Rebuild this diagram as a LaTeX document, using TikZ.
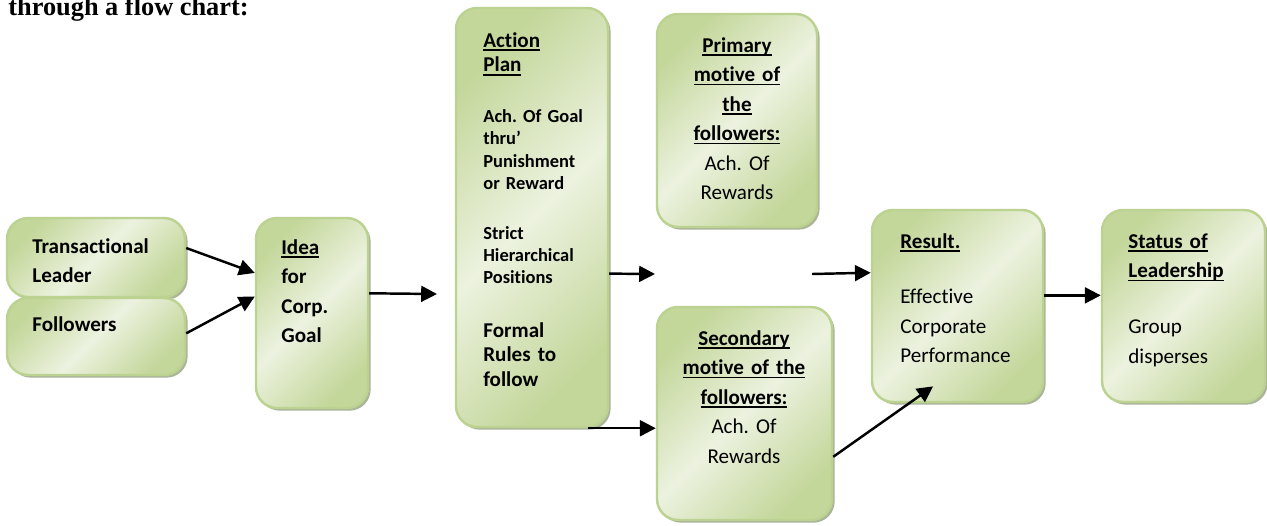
\documentclass[tikz,border=0pt]{standalone}
\usepackage{fontspec}
\setmainfont{Carlito}[Ligatures=NoCommon]
\newfontfamily\titlefont{Liberation Serif}
\usetikzlibrary{arrows.meta,shadows,fit}
\frenchspacing
\newsavebox\ulbox
\newcommand{\ulb}[1]{\leavevmode\sbox\ulbox{\bfseries #1}\rlap{\rule[-2.1pt]{\wd\ulbox}{0.75pt}}\usebox\ulbox}

\begin{document}
\begin{tikzpicture}[x=0.02cm, y=-0.02cm, >={Triangle[length=9pt,width=9pt]}]
\definecolor{boxlight}{RGB}{236,242,223}
\definecolor{boxdark}{RGB}{196,215,155}
\definecolor{boxline}{RGB}{188,210,145}
\definecolor{boxshadow}{RGB}{150,162,128}
\tikzset{
  flowbox/.style={draw=boxline, line width=1.4pt, rounded corners=12pt, inner sep=0pt,
    left color=boxdark, right color=boxdark, middle color=boxlight, shading angle=45,
    drop shadow={shadow xshift=1.5pt, shadow yshift=-1.5pt, fill=boxshadow, opacity=0.8}},
  boxtext/.style={anchor=base west, inner sep=0pt, text width=3cm, align=left,
    font=\fontsize{12}{16.8}\selectfont},
  boldtext/.style={boxtext, font=\fontsize{12}{16.8}\selectfont\bfseries},
  smalltext/.style={boxtext, font=\fontsize{10.5}{12.75}\selectfont\bfseries},
  centertext/.style={boxtext, anchor=base, align=center},
  flow/.style={->, line width=1.4pt}
}
\useasboundingbox (0,0) rectangle (1267,525);

\node[anchor=base west, inner sep=0pt, font=\titlefont\fontsize{15}{18}\selectfont\bfseries]
  (title) at (8,15) {through a flow chart:};

% boxes
\foreach \n/\xa/\ya/\xb/\yb in {lead/7/218/185/297, foll/7/298/185/375, idea/256/218/368/408,
    act/456/8/608/427, prim/657/14/817/227, sec/657/307/832/520,
    res/872/210/1043/402, stat/1102/210/1265/402}
  \node[flowbox, fit={(\xa,\ya) (\xb,\yb)}] (\n) {};

% texts
\node[boldtext] (leadtxt) at (32,253) {Transactional\\Leader};
\node[boldtext] (folltxt) at (32,331) {Followers};
\node[boldtext] (ideatxt) at (281,254) {\ulb{Idea}\\for\\Corp.\\Goal};

\node[boldtext, font=\fontsize{12}{14.2}\selectfont\bfseries] (acttitle) at (483,47) {\ulb{Action}\\\ulb{Plan}};
\node[smalltext] (actgoal) at (483,122.5) {Ach. Of Goal\\thru’\\Punishment\\or Reward};
\node[smalltext] (actrank) at (483,239) {Strict\\Hierarchical\\Positions};
\node[boldtext, font=\fontsize{12}{14.2}\selectfont\bfseries] (actrules) at (483,337) {Formal\\Rules to\\follow};

\node[centertext] (primtxt) at (737,52) {\ulb{Primary}\\\ulb{motive of}\\\ulb{the}\\\ulb{followers:}\\Ach. Of\\Rewards};
\node[centertext] (sectxt) at (744,345) {\ulb{Secondary}\\\ulb{motive of the}\\\ulb{followers:}\\Ach. Of\\Rewards};

\node[boxtext] (restxt) at (900,248) {\ulb{Result.}\\[15pt]Effective\\Corporate\\Performance};
\node[boxtext] (stattxt) at (1128,248) {\ulb{Status of}\\\ulb{Leadership}\\[15.3pt]Group\\disperses};

% arrows
\coordinate (toplan) at (437,294);
\coordinate (toprim) at (655,274);
\coordinate (fromprim) at (812,274);

\draw[flow] (lead.6) -- (idea.145);
\draw[flow] (foll.2) -- (idea.164);
\draw[flow] (idea.19) -- (toplan);
\draw[flow] (act.-36.6) -- (toprim);
\draw[flow] (fromprim) -- (res.159.5);
\draw[flow] (act.-75) -- (sec.west |- act.-75);
\draw[flow] (sec.-26) -- ([shift={(-13.9pt,9.6pt)}]res.south);
\draw[flow] (res.7) -- (stat.west |- res.7);
\end{tikzpicture}
\end{document}
